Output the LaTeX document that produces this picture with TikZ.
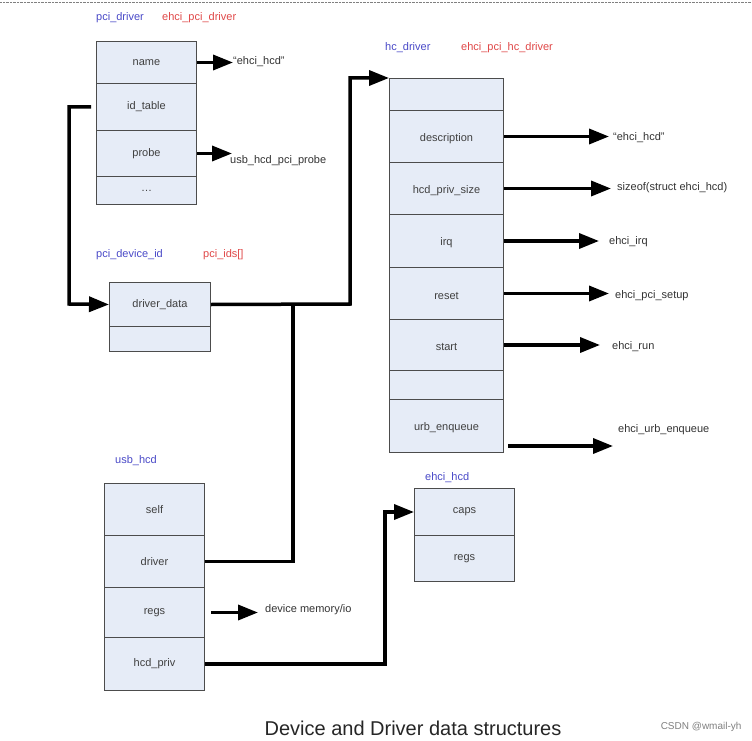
\documentclass[tikz,border=0pt]{standalone}
\usepackage{fontspec}
\setmainfont{Liberation Sans}
\usetikzlibrary{arrows.meta}
\definecolor{cellfill}{HTML}{E6ECF7}
\definecolor{lblue}{HTML}{4A4AC8}
\definecolor{lred}{HTML}{E04848}
\begin{document}
\begin{tikzpicture}[x=1pt,y=-1pt,
  cell/.style={draw=black!70,line width=1pt,fill=cellfill,font=\fontsize{11}{13}\selectfont,text=black!75},
  tx/.style={font=\fontsize{11}{13}\selectfont,text=black!75},
  lbl/.style={font=\fontsize{11}{13}\selectfont,text=black!80,anchor=west,inner sep=0},
  bl/.style={font=\fontsize{11}{13}\selectfont,text=lblue,anchor=west,inner sep=0},
  rd/.style={font=\fontsize{11}{13}\selectfont,text=lred,anchor=west,inner sep=0},
  ptr/.style={line width=3.5pt,-{Triangle[length=20pt,width=15pt]}},
  wire/.style={line width=3.5pt}]
\useasboundingbox (0,0) rectangle (752,741);
\fill[white] (0,0) rectangle (752,741);
\draw[black!50,densely dotted] (0,2) -- (752,2);
% pci_driver
\node[bl] (l1) at (96,18) {pci\_driver};
\node[rd] (l2) at (162,18) {ehci\_pci\_driver};
\foreach \n/\a/\b/\t in {pname/41/83/name,pid/83/130/id\_table,pprobe/130/176/probe,pdots/176/204/\ldots}{
  \node[cell,minimum width=100,minimum height=\b-\a,inner sep=0,anchor=north west] (\n) at (96,\a) {};
  \node[tx] at (\n.center) {\t};
}
% pci_device_id
\node[bl] (l3) at (96,255) {pci\_device\_id};
\node[rd] (l4) at (203,255) {pci\_ids[]};
\node[cell,minimum width=101,minimum height=44,inner sep=0,anchor=north west] (dd) at (109,282) {driver\_data};
\node[cell,minimum width=101,minimum height=25,inner sep=0,anchor=north west] (dd2) at (109,326) {};
% hc_driver
\node[bl] (l5) at (385,48) {hc\_driver};
\node[rd] (l6) at (461,48) {ehci\_pci\_hc\_driver};
\foreach \n/\a/\b/\t in {h0/78/110/{},hdesc/110/162/description,hpriv/162/214/hcd\_priv\_size,hirq/214/267/irq,hreset/267/319/reset,hstart/319/370/start,h6/370/399/{},hurb/399/452/urb\_enqueue}{
  \node[cell,minimum width=114,minimum height=\b-\a,inner sep=0,anchor=north west] (\n) at (389,\a) {};
  \node[tx] at ([yshift=-2]\n.center) {\t};
}
% usb_hcd
\node[bl] (l7) at (115,461) {usb\_hcd};
\foreach \n/\a/\b/\t in {uself/483/535/self,udrv/535/587/driver,uregs/587/637/regs,upriv/637/690/hcd\_priv}{
  \node[cell,minimum width=100,minimum height=\b-\a,inner sep=0,anchor=north west] (\n) at (104,\a) {};
  \node[tx] at (\n.center) {\t};
}
% ehci_hcd
\node[bl] (l8) at (425,478) {ehci\_hcd};
\node[cell,minimum width=100,minimum height=47,inner sep=0,anchor=north west] (ecaps) at (414,488) {caps};
\node[cell,minimum width=100,minimum height=46,inner sep=0,anchor=north west] (eregs) at (414,535) {regs};
% targets
\node[lbl] (t1) at (233,62) {``ehci\_hcd''};
\node[lbl] (t2) at (230,161) {usb\_hcd\_pci\_probe};
\node[lbl] (t3) at (613,138) {``ehci\_hcd''};
\node[lbl] (t4) at (617,188) {sizeof(struct ehci\_hcd)};
\node[lbl] (t5) at (609,242) {ehci\_irq};
\node[lbl] (t6) at (615,296) {ehci\_pci\_setup};
\node[lbl] (t7) at (612,347) {ehci\_run};
\node[lbl] (t8) at (618,430) {ehci\_urb\_enqueue};
\node[lbl] (t9) at (265,610) {device memory/io};
% arrows
\draw[ptr] (pname.east) -- (pname.east -| t1.west);
\draw[ptr] (pprobe.east) -- ([xshift=2]pprobe.east -| t2.west);
\draw[ptr] (hdesc.east) -- ([xshift=-4]hdesc.east -| t3.west);
\draw[ptr] (hpriv.east) -- ([xshift=-6]hpriv.east -| t4.west);
\draw[ptr] (hirq.east) -- ([xshift=-10]hirq.east -| t5.west);
\draw[ptr] (hreset.east) -- ([xshift=-6]hreset.east -| t6.west);
\draw[ptr] (hstart.east) -- ([xshift=-12]hstart.east -| t7.west);
\draw[ptr] ([xshift=4,yshift=-20]hurb.east) -- ([xshift=-5,yshift=-20]hurb.east -| t8.west);
\draw[ptr] ([xshift=6]uregs.east) -- ([xshift=-7]uregs.east -| t9.west);
\draw[ptr] ([xshift=-5]pid.west) -| (69,304) -- (dd.west);
\draw[ptr] (dd.east) -- (350,304) |- (h0.north west);
\draw[wire] (udrv.east) -| (293,304);
\draw[ptr] (upriv.east) -| (385,512) -- (ecaps.west);
% title
\node[font=\fontsize{20}{24}\selectfont,text=black!85] (title) at (413,728) {Device and Driver data structures};
\node[font=\fontsize{10}{12}\selectfont,text=black!50,anchor=east] (wm) at (745,727) {CSDN @wmail-yh};
\end{tikzpicture}
\end{document}
